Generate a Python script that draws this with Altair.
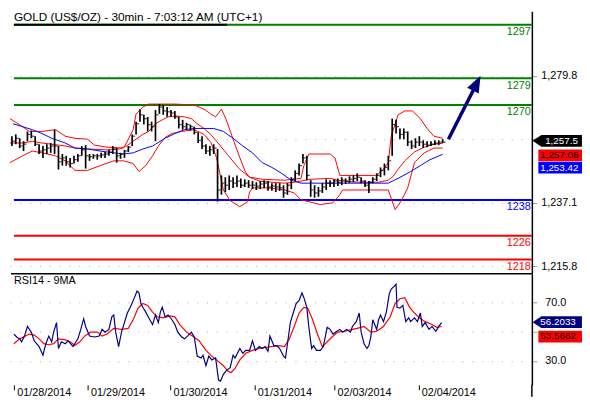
import altair as alt
import pandas as pd

FONT = "Liberation Sans"

chart_title = "GOLD (US$/OZ) - 30min - 7:03:12 AM (UTC+1)"
rsi_title = "RSI14 - 9MA"

date_ticks = [2, 40, 82.5, 126, 167, 210.5]
date_labels = ["01/28/2014", "01/29/2014", "01/30/2014", "01/31/2014", "02/03/2014", "02/04/2014"]

# price bars (x in 30-min bar index)
ohlc_bar = list(range(1, 224, 2))
ohlc_high = [1259.5, 1260.1, 1258.8, 1257.8, 1261.1, 1261.4, 1259.5, 1256.8, 1256.2, 1256.8,
             1257.2, 1261.7, 1256.2, 1253.5, 1252.9, 1252.2, 1252.9, 1253.5, 1256.2, 1256.5,
             1253.5, 1253.5, 1253.5, 1253.9, 1254.2, 1254.9, 1256.2, 1255.5, 1253.9, 1254.9,
             1256.2, 1260.1, 1264.4, 1268.6, 1266.7, 1266.0, 1264.4, 1268.3, 1270.3, 1270.0,
             1269.3, 1268.3, 1268.0, 1266.0, 1265.0, 1264.0, 1263.4, 1262.7, 1260.8, 1259.5,
             1256.8, 1256.2, 1256.8, 1255.2, 1246.3, 1245.7, 1246.3, 1245.7, 1246.3, 1245.3,
             1245.0, 1244.7, 1244.4, 1244.0, 1244.4, 1244.7, 1244.4, 1243.7, 1243.7, 1243.7,
             1243.0, 1243.7, 1245.7, 1248.0, 1250.3, 1253.5, 1252.9, 1244.7, 1243.0, 1242.4,
             1243.7, 1245.0, 1244.7, 1245.0, 1245.3, 1245.7, 1245.3, 1246.0, 1246.3, 1247.0,
             1245.7, 1244.7, 1244.4, 1245.7, 1247.0, 1249.0, 1250.3, 1252.9, 1265.4, 1265.0,
             1262.1, 1262.1, 1261.1, 1258.1, 1258.8, 1259.5, 1258.1, 1257.8, 1257.8, 1258.1,
             1258.1, 1258.5]
ohlc_low = [1256.2, 1256.8, 1255.5, 1254.5, 1257.8, 1258.8, 1256.2, 1253.5, 1252.2, 1253.5,
            1253.9, 1253.5, 1248.3, 1249.6, 1249.6, 1249.0, 1250.3, 1250.9, 1252.9, 1248.6,
            1251.2, 1251.9, 1251.6, 1252.2, 1252.2, 1252.9, 1253.5, 1250.6, 1251.9, 1252.2,
            1254.2, 1256.2, 1260.1, 1264.4, 1263.4, 1261.1, 1261.1, 1257.8, 1267.0, 1266.7,
            1266.0, 1266.0, 1265.4, 1262.1, 1261.7, 1261.7, 1261.4, 1260.1, 1257.2, 1255.2,
            1253.5, 1252.9, 1253.5, 1237.5, 1239.8, 1240.7, 1241.4, 1242.1, 1242.4, 1242.1,
            1242.4, 1242.1, 1241.7, 1241.4, 1241.7, 1242.1, 1241.1, 1241.1, 1240.7, 1241.1,
            1238.8, 1239.8, 1241.7, 1244.4, 1246.3, 1250.3, 1244.7, 1239.1, 1238.8, 1239.1,
            1240.4, 1241.4, 1242.4, 1242.4, 1242.7, 1243.0, 1243.4, 1243.7, 1244.0, 1244.4,
            1243.7, 1242.4, 1240.4, 1243.7, 1244.4, 1245.7, 1246.3, 1248.0, 1252.9, 1260.4,
            1258.5, 1258.5, 1256.2, 1255.2, 1255.5, 1256.2, 1255.5, 1255.8, 1256.2, 1256.5,
            1256.5, 1257.2]
ohlc_close = [1257.8, 1258.8, 1256.2, 1256.8, 1260.1, 1259.5, 1256.8, 1254.5, 1254.9, 1255.5,
              1256.2, 1256.2, 1250.9, 1252.2, 1250.9, 1250.3, 1251.6, 1252.9, 1254.9, 1252.9,
              1252.6, 1252.9, 1252.9, 1253.2, 1253.5, 1254.2, 1255.2, 1252.9, 1253.5, 1254.5,
              1255.8, 1259.5, 1263.7, 1266.7, 1265.4, 1263.4, 1262.7, 1266.7, 1269.3, 1268.0,
              1267.7, 1267.3, 1266.0, 1263.4, 1262.7, 1263.4, 1262.7, 1260.8, 1258.1, 1256.2,
              1254.5, 1254.9, 1255.5, 1241.4, 1243.7, 1243.0, 1244.4, 1243.7, 1244.4, 1243.0,
              1243.7, 1243.0, 1243.0, 1242.7, 1243.4, 1243.7, 1242.4, 1242.7, 1242.4, 1242.1,
              1240.4, 1243.0, 1245.0, 1247.0, 1249.6, 1252.2, 1246.3, 1241.4, 1240.4, 1241.1,
              1242.4, 1243.7, 1243.7, 1244.4, 1244.0, 1244.7, 1244.4, 1245.0, 1245.3, 1245.7,
              1244.4, 1243.0, 1244.0, 1245.0, 1246.3, 1248.0, 1249.0, 1251.2, 1263.4, 1262.7,
              1260.1, 1260.8, 1257.5, 1256.2, 1257.5, 1257.5, 1256.8, 1256.5, 1256.8, 1257.2,
              1257.5, 1257.5]

# Bollinger bands
bb_upper_bar = [0, 6.5, 10, 16.5, 23.5, 28.5, 33.5, 40, 43.5, 50, 58.5, 60, 63.5, 65, 68.5, 71.5,
                75, 78.5, 85, 95, 100, 103.5, 106, 109, 111.5, 115, 118.5, 121.5, 123.5, 130,
                141.5, 150, 151.5, 154, 165, 167.5, 170, 188.5, 191.5, 195, 196.5, 200, 203.5,
                207.5, 211.5, 215, 218.5, 223]
bb_upper = [1265.4, 1262.7, 1261.1, 1261.1, 1261.7, 1259.5, 1258.8, 1258.5, 1256.5, 1255.8,
            1255.5, 1257.2, 1261.7, 1267.0, 1269.3, 1270.3, 1270.3, 1270.3, 1270.3, 1270.0,
            1268.6, 1267.0, 1266.0, 1268.6, 1265.0, 1258.5, 1252.2, 1247.3, 1245.7, 1245.0,
            1244.7, 1245.3, 1249.6, 1253.5, 1253.5, 1252.2, 1246.3, 1246.3, 1247.6, 1250.6,
            1259.5, 1266.7, 1268.0, 1268.0, 1265.4, 1262.1, 1259.5, 1258.8]
bb_mid_bar = [0, 6.5, 11.5, 16.5, 21.5, 28.5, 33.5, 40, 50, 56.5, 60, 63.5, 68.5, 71.5, 75,
              78.5, 81.5, 85, 90, 93.5, 96.5, 100, 103.5, 108.5, 113.5, 118.5, 123.5, 128.5,
              135, 141.5, 146.5, 150, 155, 165, 171.5, 180, 190, 195, 197.5, 200, 203.5, 208.5,
              213.5, 218.5, 223]
bb_mid = [1257.2, 1257.2, 1257.8, 1257.2, 1256.8, 1256.2, 1255.5, 1255.2, 1254.9, 1255.2,
          1256.2, 1257.8, 1260.1, 1261.1, 1263.7, 1265.0, 1266.0, 1266.3, 1266.0, 1265.4,
          1263.7, 1262.1, 1260.1, 1256.2, 1252.2, 1248.3, 1245.7, 1244.4, 1244.0, 1243.7,
          1244.0, 1244.4, 1245.0, 1245.3, 1244.4, 1244.0, 1244.0, 1244.7, 1246.0, 1248.3,
          1251.2, 1254.2, 1255.8, 1256.8, 1257.1]
bb_lower_bar = [0, 6.5, 11.5, 16.5, 23.5, 28.5, 33.5, 40, 46.5, 53.5, 58.5, 63.5, 66.5, 70,
                73.5, 76.5, 80, 83.5, 88.5, 95, 100, 103.5, 106.5, 110, 113.5, 118.5, 122.5,
                123.5, 125, 133.5, 141.5, 146.5, 150, 160, 166.5, 170, 171.5, 195, 198.5, 201.5,
                205, 208.5, 213.5, 218.5, 223]
bb_lower = [1250.6, 1252.9, 1254.5, 1253.9, 1252.9, 1251.2, 1248.0, 1248.0, 1249.6, 1251.2,
            1251.2, 1250.3, 1247.6, 1249.6, 1252.9, 1256.2, 1259.1, 1260.4, 1261.1, 1261.7,
            1260.1, 1257.5, 1252.2, 1241.4, 1237.8, 1235.8, 1237.5, 1240.7, 1242.1, 1242.1,
            1241.4, 1240.4, 1238.1, 1236.5, 1237.1, 1239.8, 1241.4, 1241.4, 1234.8, 1237.5,
            1242.1, 1250.6, 1253.9, 1255.5, 1255.5]
# slower moving average (blue)
ma_bar = [1.5, 6.5, 11.5, 16.5, 21.5, 28.5, 33.5, 40, 46.5, 53.5, 58.5, 63.5, 68.5, 73.5, 75,
          80, 85, 90, 95, 105, 110, 115, 120, 125, 130, 135, 140, 145, 150, 195, 200, 206.5,
          211.5, 216.5, 223]
ma_blue = [1263.7, 1262.7, 1261.7, 1260.4, 1258.8, 1257.2, 1255.5, 1255.2, 1254.5, 1253.9,
           1253.5, 1253.9, 1255.2, 1256.2, 1256.8, 1258.8, 1260.4, 1261.7, 1262.1, 1262.1,
           1261.1, 1258.8, 1256.2, 1253.9, 1250.6, 1249.0, 1247.0, 1244.7, 1243.7, 1243.7,
           1245.3, 1247.6, 1249.6, 1251.6, 1253.4]

# RSI(14) and its 9-period MA
rsi_bar = [2, 3.5, 5, 6, 7.5, 9, 11, 12.5, 15, 17, 18.5, 20, 21.5, 22.5, 24, 25, 26.5, 28.5, 30,
           32.5, 35, 36.5, 38, 39, 41, 43.5, 46, 47.5, 49, 51, 52.5, 53.5, 54.5, 56, 57.5, 59,
           60.5, 62, 63.5, 65.5, 66.5, 67.5, 68.5, 70, 71.5, 73.5, 75, 76.5, 77.5, 78.5, 80,
           81.5, 83.5, 85, 86.5, 88.5, 90, 91.5, 93.5, 95, 96.5, 98.5, 99.5, 101, 102.5, 104,
           106, 107.5, 108.5, 110, 111.5, 113.5, 115, 116, 118.5, 120, 121.5, 123.5, 125, 126.5,
           128.5, 130, 131.5, 133, 134, 136, 137.5, 139, 141, 142, 143.5, 144.5, 146, 147.5,
           149, 150.5, 151.5, 153, 154, 155.5, 156.5, 158, 160, 161.5, 163.5, 165, 166.5, 168.5,
           170, 171.5, 173.5, 175.5, 176.5, 178.5, 180, 181, 182.5, 184, 185, 186, 187, 189,
           190, 191, 192.5, 194, 195.5, 196.5, 198, 199, 199.5, 201, 202.5, 204, 205.5, 206.5,
           208.5, 210, 211.5, 212.5, 214, 216, 217.5, 219.5, 221, 222.5]
rsi_val = [48.4, 46.4, 45.1, 43.1, 47.0, 53.6, 49.7, 43.8, 39.8, 33.9, 41.8, 47.0, 43.1, 49.7,
           56.2, 38.5, 43.1, 41.8, 43.8, 39.8, 45.1, 51.6, 58.9, 53.6, 47.0, 46.4, 47.0, 51.6,
           49.7, 51.6, 60.2, 61.5, 49.7, 39.8, 49.7, 56.2, 62.8, 66.7, 71.3, 77.9, 76.6, 69.3,
           66.7, 63.4, 59.5, 54.9, 61.5, 56.2, 63.4, 66.7, 60.2, 61.5, 58.2, 54.9, 49.7, 46.4,
           45.1, 47.0, 49.7, 46.4, 33.3, 32.0, 33.9, 26.7, 33.3, 30.7, 32.0, 16.9, 16.2, 20.8,
           23.4, 25.4, 33.9, 32.0, 38.5, 35.2, 37.2, 37.2, 43.8, 37.2, 39.8, 38.5, 39.8, 36.6,
           47.0, 40.5, 40.5, 38.5, 33.3, 32.0, 46.4, 56.2, 62.8, 69.3, 71.3, 76.6, 73.3, 66.7,
           53.6, 38.5, 40.5, 37.2, 37.2, 39.8, 53.0, 51.6, 48.4, 50.3, 51.6, 49.7, 51.6, 49.7,
           53.6, 56.9, 62.8, 49.7, 41.8, 38.5, 40.5, 46.4, 58.2, 51.6, 58.2, 61.5, 56.9, 63.4,
           75.9, 79.2, 81.1, 82.5, 66.7, 66.1, 68.0, 56.9, 59.5, 56.9, 59.5, 56.9, 62.8, 53.6,
           56.2, 51.6, 53.6, 50.3, 53.6, 56.2]
rsi_ma_bar = [2, 5, 10, 12.5, 15, 17.5, 20, 22.5, 25, 28.5, 31, 33.5, 36, 38.5, 41.5, 45, 47.5,
              50, 53.5, 57.5, 61, 63.5, 66, 68.5, 71, 73.5, 76, 79, 82.5, 85, 87.5, 91, 94,
              97.5, 101, 104, 106.5, 110, 112.5, 114, 116, 118.5, 121.5, 125, 128.5, 131.5,
              135, 138.5, 141.5, 144, 146.5, 149, 151.5, 153.5, 156, 158.5, 161, 163.5, 166,
              169, 172.5, 176.5, 179, 182.5, 186, 189, 192.5, 196, 198.5, 201, 203.5, 206,
              208.5, 211, 214, 217.5, 220, 222.5]
rsi_ma = [41.8, 45.1, 48.4, 47.7, 45.1, 41.8, 41.1, 41.8, 45.1, 44.4, 43.1, 40.5, 43.1, 47.0,
          49.7, 49.7, 47.0, 48.4, 52.3, 51.6, 52.3, 58.2, 66.1, 69.3, 68.0, 63.4, 60.2, 59.5,
          60.8, 60.2, 54.9, 49.7, 47.0, 43.8, 37.2, 33.3, 30.7, 26.7, 22.8, 22.1, 24.8, 30.7,
          35.2, 37.2, 38.5, 39.2, 39.8, 40.5, 39.8, 45.1, 53.6, 62.8, 66.7, 66.1, 58.2, 48.4,
          39.8, 43.1, 46.4, 49.7, 50.3, 51.6, 52.3, 53.6, 49.7, 50.3, 53.6, 60.2, 69.3, 72.6,
          73.3, 66.7, 62.8, 59.5, 56.9, 54.9, 53.0, 53.6]

levels = [1297, 1279, 1270, 1238, 1226, 1218]
level_colors = ["#008000", "#008000", "#008000", "#0000ff", "#ff0000", "#ff0000"]

price_axis_values = [1215.8, 1237.1, 1258.45, 1279.8]
rsi_axis_values = [30, 50, 70]

last_price = 1257.5
last_mid = 1257.08
last_ma = 1253.42
last_rsi = 56.2033
last_rsi_ma = 53.5662

arrow_bar = [226, 239]
arrow_price = [1258.5, 1275.2]
arrow_head_bar = [240.1]
arrow_head_price = [1276.7]

# ---------------- layout ----------------
W, H1, H2 = 531, 267, 113
XS = alt.Scale(domain=[0, 269], nice=False, zero=False)
YS = alt.Scale(domain=[1213.2, 1301.5], nice=False, zero=False)
RS = alt.Scale(domain=[13.6, 89.67], nice=False, zero=False)

price_axis = alt.Axis(
    orient="right", values=price_axis_values, title=None,
    labelExpr="(datum.value > 1258 && datum.value < 1259) ? '' : format(datum.value, ',.1f')",
    domainColor="black", domainWidth=1.5, tickColor="#999999", tickSize=5, tickWidth=1,
    labelFont=FONT, labelFontSize=11, labelColor="black", labelPadding=4,
    grid=True, gridColor="#aaaaaa", gridDash=[1, 9], gridWidth=1)

rsi_axis = alt.Axis(
    orient="right", values=rsi_axis_values, title=None,
    labelExpr="datum.value == 50 ? '' : format(datum.value, '.1f')",
    domainColor="black", domainWidth=1.5, tickColor="#999999", tickSize=5, tickWidth=1,
    labelFont=FONT, labelFontSize=11, labelColor="black", labelPadding=8,
    grid=True, gridColor="#aaaaaa", gridDash=[1, 9], gridWidth=1)

date_expr = "''"
for v, lab in reversed(list(zip(date_ticks, date_labels))):
    date_expr = f"datum.value == {v} ? '{lab}' : ({date_expr})"

date_axis = alt.Axis(
    orient="bottom", values=date_ticks, title=None, labelExpr=date_expr,
    domain=False, ticks=True, tickSize=5, tickColor="black", tickWidth=1,
    labelAlign="left", labelBaseline="top", labelPadding=-3.5, labelOffset=3,
    labelFont=FONT, labelFontSize=11, labelColor="black", grid=False,
    labelFlush=False, labelOverlap=False, labelBound=False)

one = pd.DataFrame({"a": [0]})


def xq(field):
    return alt.X(field, type="quantitative", scale=XS, axis=None)


def yp(field):
    return alt.Y(field, type="quantitative", scale=YS, axis=price_axis)


def xr(field):
    return alt.X(field, type="quantitative", scale=XS, axis=date_axis)


def yr(field):
    return alt.Y(field, type="quantitative", scale=RS, axis=rsi_axis)


# ---------- price panel ----------
lv_df = pd.DataFrame({"level": levels, "color": level_colors, "label": [str(v) for v in levels]})
level_rules = alt.Chart(lv_df).mark_rule(strokeWidth=2).encode(
    y=yp("level"), x=alt.value(4), x2=alt.value(W),
    color=alt.Color("color:N", scale=None))
level_text = alt.Chart(lv_df).mark_text(
    align="right", baseline="top", dy=1.5, fontSize=11, font=FONT).encode(
    y=yp("level"), x=alt.value(W - 1), text="label:N",
    color=alt.Color("color:N", scale=None))

title_line = alt.Chart(pd.DataFrame({"level": [levels[0]]})).mark_rule(
    color="black", strokeWidth=2).encode(y=yp("level"), x=alt.value(4), x2=alt.value(221))
title_txt = alt.Chart(one).mark_text(
    align="left", baseline="top", fontSize=12, font=FONT, color="black").encode(
    x=alt.value(4), y=alt.value(1), text=alt.value(chart_title))

bb = []
for bx, by in [(bb_upper_bar, bb_upper), (bb_mid_bar, bb_mid), (bb_lower_bar, bb_lower)]:
    d = pd.DataFrame({"t": bx, "p": by})
    bb.append(alt.Chart(d).mark_line(color="#ff0000", strokeWidth=1).encode(
        x=xq("t"), y=yp("p")))
ma_line = alt.Chart(pd.DataFrame({"t": ma_bar, "p": ma_blue})).mark_line(
    color="#0000ff", strokeWidth=1).encode(x=xq("t"), y=yp("p"))

ohlc_df = pd.DataFrame({"t": ohlc_bar, "high": ohlc_high, "low": ohlc_low, "close": ohlc_close})
bars = alt.Chart(ohlc_df).mark_rule(color="black", strokeWidth=1.7).encode(
    x=xq("t"), y=yp("low"), y2="high:Q")
closes = alt.Chart(ohlc_df).mark_tick(
    color="black", orient="horizontal", size=3, thickness=1.2, xOffset=1.5).encode(
    x=xq("t"), y=yp("close"))

arrow_line = alt.Chart(pd.DataFrame({"t": arrow_bar, "p": arrow_price})).mark_line(
    color="#000080", strokeWidth=3.5).encode(x=xq("t"), y=yp("p"))
arrow_head = alt.Chart(pd.DataFrame({"t": arrow_head_bar, "p": arrow_head_price})).mark_point(
    shape="M0,-1L0.62,0.6L-0.62,0.6Z", filled=True, size=450, angle=27,
    color="#000080", opacity=1, strokeWidth=0).encode(x=xq("t"), y=yp("p"))

TAG_ARROW = "M-1,0L-0.64,-0.24L1,-0.24L1,0.24L-0.64,0.24Z"
TAG_BOX = "M-1,-0.27L1,-0.27L1,0.27L-1,0.27Z"


def tag(value, fmt, fill, tcolor, shape, size, cx, tx, off, yfn):
    d = pd.DataFrame({"v": [value], "s": [format(value, fmt)]})
    box = alt.Chart(d).mark_point(
        shape=shape, filled=True, size=size, color=fill, opacity=1, strokeWidth=0,
        yOffset=off).encode(x=alt.value(cx), y=yfn("v"))
    txt = alt.Chart(d).mark_text(
        align="left", baseline="middle", fontSize=10, font=FONT, color=tcolor, dy=off).encode(
        x=alt.value(tx), y=yfn("v"), text="s:N")
    return [box, txt]


price_tags = (
    tag(last_price, ",.1f", "black", "white", TAG_ARROW, 2530, 556.8, 544.5, -1.3, yp)
    + tag(last_mid, ",.2f", "#ff0000", "black", TAG_BOX, 1971, 559.8, 539.5, 12.2, yp)
    + tag(last_ma, ",.2f", "#0000ff", "white", TAG_BOX, 1971, 559.8, 539.5, 13.7, yp)
)

top = alt.layer(
    level_rules, title_line, *bb, ma_line, bars, closes, level_text, arrow_line, arrow_head,
    title_txt, *price_tags
).properties(width=W, height=H1)

# ---------- RSI panel ----------
rsi_line = alt.Chart(pd.DataFrame({"t": rsi_bar, "r": rsi_val})).mark_line(
    color="#000080", strokeWidth=1.2).encode(x=xr("t"), y=yr("r"))
rsi_ma_line = alt.Chart(pd.DataFrame({"t": rsi_ma_bar, "r": rsi_ma})).mark_line(
    color="#ff0000", strokeWidth=1.2).encode(x=xr("t"), y=yr("r"))
sep = alt.Chart(one).mark_rule(color="black", strokeWidth=1.5).encode(
    x=alt.value(1), x2=alt.value(W), y=alt.value(0))
ext = alt.Chart(one).mark_rule(color="black", strokeWidth=1.5).encode(
    x=alt.value(W), y=alt.value(H2), y2=alt.value(H2 + 12))
rsi_txt = alt.Chart(one).mark_text(
    align="left", baseline="top", fontSize=11, font=FONT, color="black").encode(
    x=alt.value(4), y=alt.value(1.5), text=alt.value(rsi_title))

rsi_tags = (
    tag(last_rsi, ".4f", "#000080", "white", TAG_ARROW, 2530, 556.8, 539.6, -0.5, yr)
    + tag(last_rsi_ma, ".4f", "#ff0000", "black", TAG_BOX, 1971, 559.8, 539.6, 10.2, yr)
)

bottom = alt.layer(
    rsi_ma_line, rsi_line, sep, ext, rsi_txt, *rsi_tags
).properties(width=W, height=H2)

chart = alt.vconcat(top, bottom, spacing=0, bounds="flush").properties(
    padding=0, background="white"
).configure_view(stroke=None)

chart.save("out.html", embed_options={"renderer": "svg", "actions": False})
